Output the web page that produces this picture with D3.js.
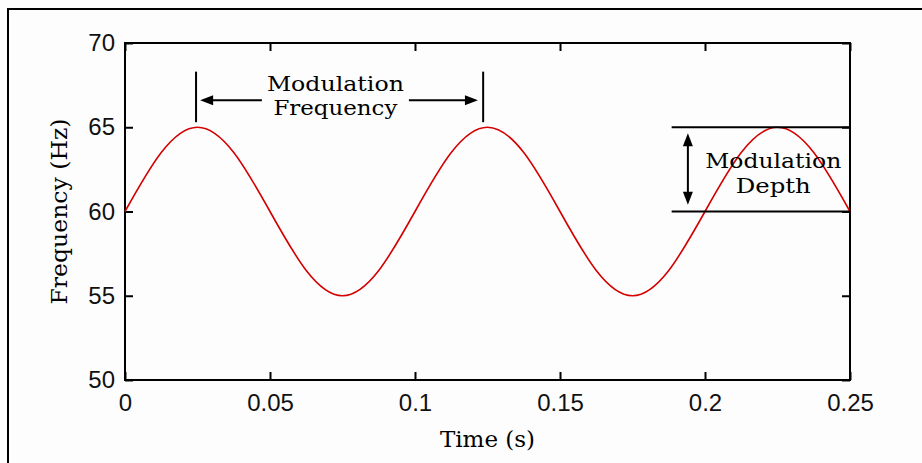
<!DOCTYPE html>
<html>
<head>
<meta charset="utf-8">
<script src="https://cdn.jsdelivr.net/npm/d3@7"></script>
<style>
  body { margin: 0; background: #fdfdfd; }
  svg { display: block; }
  .tick text { font-family: "Liberation Sans", Arial, sans-serif; font-size: 24px; fill: #111; }
  .tick line { stroke: #000; stroke-width: 2; }
  .serif { font-family: "DejaVu Serif", serif; font-size: 23px; fill: #000; }
  .note { font-family: "DejaVu Serif", serif; font-size: 21px; fill: #000; }
</style>
</head>
<body>
<svg width="922" height="463"></svg>
<script>
// samples (time in s, frequency in Hz)
var times = [0, 0.0125, 0.025, 0.0375, 0.05, 0.0625, 0.075, 0.0875, 0.1, 0.1125, 0.125,
             0.1375, 0.15, 0.1625, 0.175, 0.1875, 0.2, 0.2125, 0.225, 0.2375, 0.25];
var freqs = [60, 63.5, 65, 63.5, 60, 56.5, 55, 56.5, 60, 63.5, 65,
             63.5, 60, 56.5, 55, 56.5, 60, 63.5, 65, 63.5, 60];

var xTicks = [0, 0.05, 0.1, 0.15, 0.2, 0.25];
var xTickLabels = ["0", "0.05", "0.1", "0.15", "0.2", "0.25"];
var yTicks = [50, 55, 60, 65, 70];

// annotation anchors, in data units
var freqBarTimes = [0.0245, 0.1235];
var freqBarRange = [65.3, 68.3];
var freqArrowY = 66.6;
var freqArrowLeft = [0.0259, 0.0472];
var freqArrowRight = [0.0979, 0.1217];
var depthLevels = [65, 60];
var depthLineFrom = 0.1885;
var depthArrowT = 0.1941;
var depthArrowRange = [60.4, 64.65];

var margin = { top: 43, left: 125, right: 72, bottom: 83 },
    width = 922 - margin.left - margin.right,
    height = 463 - margin.top - margin.bottom;

var svg = d3.select("svg");

// outer figure border (runs off the page on the right and bottom)
svg.append("rect")
    .attr("x", 8).attr("y", 9)
    .attr("width", 1000).attr("height", 1000)
    .attr("fill", "none").attr("stroke", "#000").attr("stroke-width", 2);

var g = svg.append("g")
    .attr("transform", "translate(" + margin.left + "," + margin.top + ")");

var x = d3.scaleLinear().domain([0, 0.25]).range([0, width]);
var y = d3.scaleLinear().domain([50, 70]).range([height, 0]);

// axes with inward ticks on all four sides
g.append("g")
    .attr("transform", "translate(0," + height + ")")
    .call(d3.axisBottom(x).tickValues(xTicks).tickSize(-8).tickPadding(14)
        .tickFormat(function (d, i) { return xTickLabels[i]; }))
    .call(function (a) { a.select(".domain").remove(); });

g.append("g")
    .call(d3.axisTop(x).tickValues(xTicks).tickSize(-8).tickFormat(""))
    .call(function (a) { a.select(".domain").remove(); });

g.append("g")
    .call(d3.axisLeft(y).tickValues(yTicks).tickSize(-8).tickPadding(10))
    .call(function (a) { a.select(".domain").remove(); });

g.append("g")
    .attr("transform", "translate(" + width + ",0)")
    .call(d3.axisRight(y).tickValues(yTicks).tickSize(-8).tickFormat(""))
    .call(function (a) { a.select(".domain").remove(); });

g.append("rect")
    .attr("width", width).attr("height", height)
    .attr("fill", "none").attr("stroke", "#000").attr("stroke-width", 2);

// the modulated frequency curve
var data = times.map(function (t, i) { return { t: t, f: freqs[i] }; });
var line = d3.line()
    .x(function (d) { return x(d.t); })
    .y(function (d) { return y(d.f); })
    .curve(d3.curveNatural);

g.append("path")
    .datum(data)
    .attr("d", line)
    .attr("fill", "none")
    .attr("stroke", "#d40000")
    .attr("stroke-width", 1.6);

// axis titles
svg.append("text")
    .attr("class", "serif")
    .attr("text-anchor", "middle")
    .attr("x", margin.left + width / 2).attr("y", 447)
    .text("Time (s)");

svg.append("text")
    .attr("class", "serif")
    .attr("text-anchor", "middle")
    .attr("transform", "translate(67," + (margin.top + height / 2) + ")rotate(-90)")
    .attr("textLength", 186).attr("lengthAdjust", "spacingAndGlyphs")
    .text("Frequency (Hz)");

// arrow helper: head at (tx,ty) pointing in direction (dx,dy)
function arrowHead(tx, ty, dx, dy) {
    var len = 13, half = 5;
    var bx = tx - dx * len, by = ty - dy * len;
    var px = -dy * half, py = dx * half;
    return "M" + tx + "," + ty + "L" + (bx + px) + "," + (by + py) + "L" + (bx - px) + "," + (by - py) + "Z";
}

function note(parent, cx, by, txt, len) {
    parent.append("text").attr("class", "note").attr("text-anchor", "middle")
        .attr("x", cx).attr("y", by)
        .attr("textLength", len).attr("lengthAdjust", "spacingAndGlyphs")
        .text(txt);
}

var ann = g.append("g");

// modulation frequency
freqBarTimes.forEach(function (t) {
    ann.append("line")
        .attr("x1", x(t)).attr("x2", x(t))
        .attr("y1", y(freqBarRange[0])).attr("y2", y(freqBarRange[1]))
        .attr("stroke", "#000").attr("stroke-width", 2);
});
ann.append("line")
    .attr("x1", x(freqArrowLeft[0]) + 10).attr("x2", x(freqArrowLeft[1]))
    .attr("y1", y(freqArrowY)).attr("y2", y(freqArrowY))
    .attr("stroke", "#000").attr("stroke-width", 2);
ann.append("path").attr("d", arrowHead(x(freqArrowLeft[0]), y(freqArrowY), -1, 0)).attr("fill", "#000");
ann.append("line")
    .attr("x1", x(freqArrowRight[0])).attr("x2", x(freqArrowRight[1]) - 10)
    .attr("y1", y(freqArrowY)).attr("y2", y(freqArrowY))
    .attr("stroke", "#000").attr("stroke-width", 2);
ann.append("path").attr("d", arrowHead(x(freqArrowRight[1]), y(freqArrowY), 1, 0)).attr("fill", "#000");

var midF = (freqArrowLeft[1] + freqArrowRight[0]) / 2;
note(ann, x(midF), y(freqArrowY) - 9, "Modulation", 137);
note(ann, x(midF), y(freqArrowY) + 15, "Frequency", 124);

// modulation depth
depthLevels.forEach(function (v) {
    ann.append("line")
        .attr("x1", x(depthLineFrom)).attr("x2", width)
        .attr("y1", y(v)).attr("y2", y(v))
        .attr("stroke", "#000").attr("stroke-width", 2);
});
ann.append("line")
    .attr("x1", x(depthArrowT)).attr("x2", x(depthArrowT))
    .attr("y1", y(depthArrowRange[1]) + 10).attr("y2", y(depthArrowRange[0]) - 10)
    .attr("stroke", "#000").attr("stroke-width", 2);
ann.append("path").attr("d", arrowHead(x(depthArrowT), y(depthArrowRange[1]), 0, -1)).attr("fill", "#000");
ann.append("path").attr("d", arrowHead(x(depthArrowT), y(depthArrowRange[0]), 0, 1)).attr("fill", "#000");

var midD = (depthArrowT + 0.25) / 2 + 0.0015;
var midV = (depthLevels[0] + depthLevels[1]) / 2;
note(ann, x(midD), y(midV) - 1, "Modulation", 136);
note(ann, x(midD), y(midV) + 24, "Depth", 75);
</script>
</body>
</html>
